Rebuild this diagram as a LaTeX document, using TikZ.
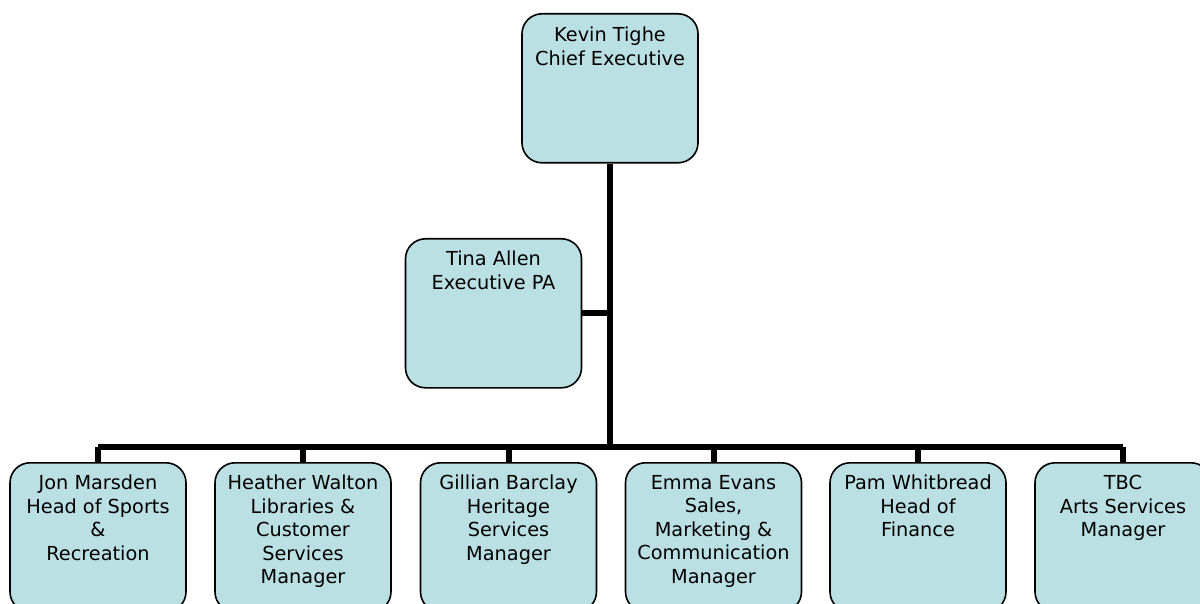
\documentclass[tikz,border=0pt]{standalone}
\usepackage{fontspec}
\setmainfont{DejaVu Sans}
\definecolor{boxfill}{RGB}{187,224,227}
\begin{document}
\begin{tikzpicture}[x=1pt,y=-1pt,
  box/.style={draw=black,line width=1.6pt,fill=boxfill,rounded corners=20pt,
    minimum width=176pt,minimum height=149pt,inner sep=0pt,anchor=north},
  lbl/.style={anchor=north,align=center,font=\fontsize{19.3}{23.5}\selectfont,inner sep=0pt},
  conn/.style={line width=6pt}]
\useasboundingbox (0,0) rectangle (1200,604);
\clip (0,0) rectangle (1200,604);
% boxes
\node[box] (k) at (610,13) {};
\node[lbl] (kt) at (610,27) {Kevin Tighe\\Chief Executive};
\node[box] (t) at (493.5,238) {};
\node[lbl] (tt) at (493.5,251) {Tina Allen\\Executive PA};
\foreach \i/\x/\txt in {1/98/{Jon Marsden\\Head of Sports\\\&\\Recreation},
  2/303/{Heather Walton\\Libraries \&\\Customer\\Services\\Manager},
  3/508.5/{Gillian Barclay\\Heritage\\Services\\Manager},
  4/713.5/{Emma Evans\\Sales,\\Marketing \&\\Communication\\Manager},
  5/918/{Pam Whitbread\\Head of\\Finance},
  6/1123/{TBC\\Arts Services\\Manager}}{
  \node[box] (b\i) at (\x,462) {};
  \node[lbl] (bt\i) at (\x,475) {\txt};
}
% connectors
\coordinate (bar) at (610,447);
\draw[conn] (k.south) -- (bar);
\draw[conn] (t.east) -- (t.east -| k.south);
\draw[conn] (b1.north |- bar) -- (b6.north |- bar);
\foreach \i in {1,...,6}{
  \draw[conn] (b\i.north |- bar) -- (b\i.north);
}
\end{tikzpicture}
\end{document}
